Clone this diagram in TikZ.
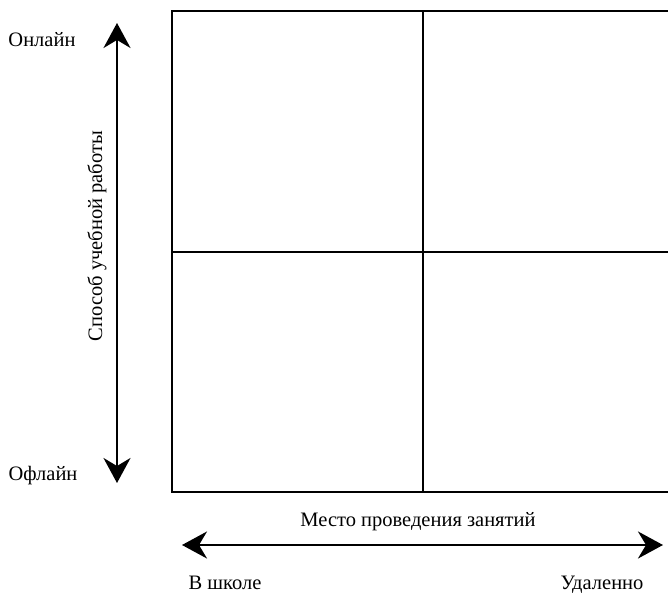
\documentclass[tikz,border=0pt]{standalone}
\usepackage{fontspec}
\setmainfont{Liberation Serif}
\usetikzlibrary{arrows.meta}
\begin{document}
\begin{tikzpicture}[x=1pt,y=-1pt,
  grid/.style={line width=2.4pt},
  axis/.style={line width=2.4pt,{Stealth[length=25pt,width=27pt,inset=8pt]}-{Stealth[length=25pt,width=27pt,inset=8pt]}},
  lbl/.style={font=\fontsize{20.5}{24}\selectfont,inner sep=0pt}]
\useasboundingbox (0,0) rectangle (668,593);
\begin{scope}
\clip (0,0) rectangle (668,593);
\coordinate (tl) at (172,11);
\coordinate (br) at (675,492);
\draw[grid] (tl) rectangle (br);
\coordinate (mt) at (423,11);
\coordinate (mb) at (423,492);
\coordinate (ml) at (172,252);
\coordinate (mr) at (675,252);
\draw[grid] (mt) -- (mb);
\draw[grid] (ml) -- (mr);
\end{scope}
\coordinate (vt) at (117,23);
\coordinate (vb) at (117,483);
\draw[axis] (vt) -- (vb);
\coordinate (hl) at (182,545);
\coordinate (hr) at (663,545);
\draw[axis] (hl) -- (hr);
\node[lbl] (on) at (42,40) {Онлайн};
\node[lbl] (off) at (43,476) {Офлайн};
\node[lbl,rotate=90] (sp) at (97,236) {Способ учебной работы};
\node[lbl] (mesto) at (418,522) {Место проведения занятий};
\node[lbl,anchor=base] (shk) at (225,589) {В школе};
\node[lbl,anchor=base] (ud) at (602,589) {Удаленно};
\end{tikzpicture}
\end{document}
